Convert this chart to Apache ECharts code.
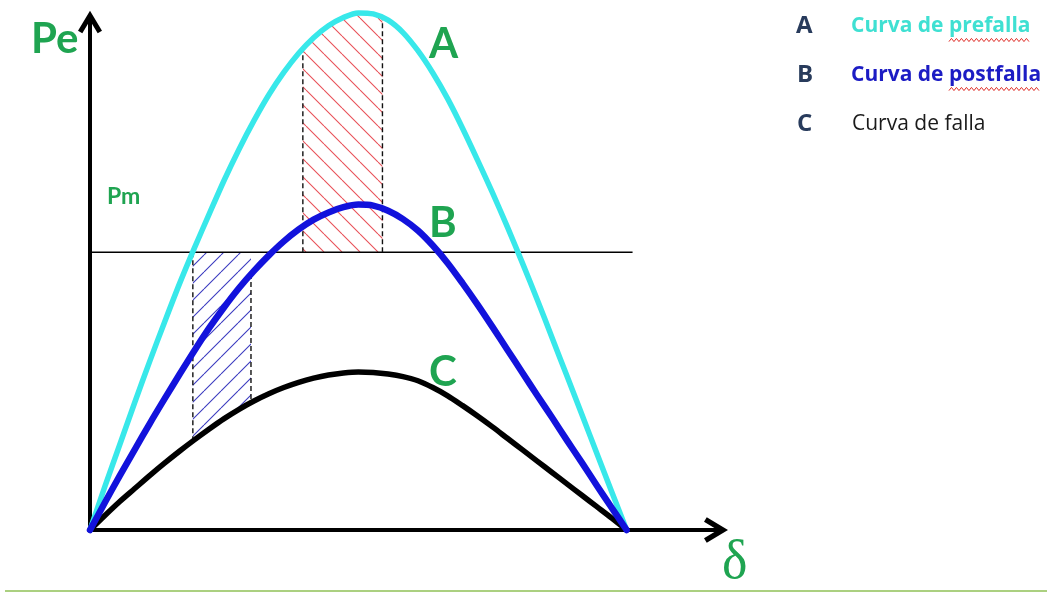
<!DOCTYPE html>
<html>
<head>
<meta charset="utf-8">
<title>Curvas potencia-ángulo</title>
<script src="https://cdn.jsdelivr.net/npm/echarts@6/dist/echarts.min.js"></script>
<style>
  html, body { margin: 0; padding: 0; background: #fff; }
  #chart { width: 1047px; height: 593px; }
</style>
</head>
<body>
<div id="chart"></div>
<script>
// Load angle δ (degrees) at which the curves are sampled
const deltaDeg  = [0, 5, 10, 15, 20, 25, 30, 35, 40, 45, 50, 55, 60, 65, 70, 75, 80, 85, 90,
                   95, 100, 105, 110, 115, 120, 125, 130, 135, 140, 145, 150, 155, 160, 165, 170, 175, 180];
// A: curva de prefalla
const prefalla  = [0, 8.4, 16.5, 24.6, 32.5, 40.1, 47.5, 54.4, 61.0, 67.5, 73.5, 79.0, 84.0, 88.3, 92.0, 95.0, 97.3, 98.9, 99.8,
                   99.6, 98.4, 96.0, 92.5, 88.2, 83.2, 77.5, 71.4, 65.1, 58.5, 51.6, 44.5, 37.1, 29.7, 22.3, 14.8, 7.4, 0];
// B: curva de postfalla
const postfalla = [0, 5.3, 10.5, 15.5, 20.5, 25.3, 30.0, 34.6, 39.0, 43.0, 46.7, 50.0, 53.0, 55.7, 58.0, 59.9, 61.3, 62.3, 62.8,
                   62.6, 61.6, 60.0, 57.8, 54.9, 51.5, 47.6, 43.5, 39.2, 34.8, 30.4, 26.0, 21.7, 17.3, 13.0, 8.6, 4.3, 0];
// C: curva de falla
const falla     = [0, 2.8, 5.5, 8.0, 10.5, 12.9, 15.2, 17.4, 19.5, 21.5, 23.3, 24.9, 26.3, 27.5, 28.5, 29.3, 29.9, 30.3, 30.5,
                   30.4, 30.1, 29.6, 28.8, 27.5, 25.9, 24.0, 22.0, 19.9, 17.7, 15.5, 13.3, 11.1, 8.9, 6.7, 4.5, 2.3, 0];

// Mechanical power Pm and the extent of its line
const pm = 53.6;
const pmSpan = [0, 182];
// Deceleration area: edges in δ and the values of A there
const redEdges = [71.4, 98.1];
const redEdgeA = [92.8, 98.9];
// Acceleration area: edges in δ, values of C there, and B at the right edge
const blueEdges = [34.5, 54];
const blueEdgeC = [17.2, 24.6];
const blueEdgeB = 49.4;

const curveLabels = ['A', 'B', 'C'];
const legendTexts = ['Curva de prefalla', 'Curva de postfalla', 'Curva de falla'];

const GREEN = '#1fa451';
const CYAN = '#38e8ea';
const BLUE = '#1212dc';

function pairs(arr) { return deltaDeg.map((d, i) => [d, arr[i]]); }
function innerPoints(arr, edges) {
  return deltaDeg.map((d, i) => [d, arr[i]]).filter(p => p[0] > edges[0] && p[0] < edges[1]);
}

// Diagonal hatch tiles
function hatch(size, color, backslash) {
  const c = document.createElement('canvas');
  c.width = size; c.height = size;
  const g = c.getContext('2d');
  g.strokeStyle = color; g.lineWidth = 1.1;
  g.beginPath();
  for (let k = -1; k <= 1; k++) {
    if (backslash) { g.moveTo(k * size, 0); g.lineTo(k * size + size, size); }
    else { g.moveTo(k * size, size); g.lineTo(k * size + size, 0); }
  }
  g.stroke();
  return { image: c, repeat: 'repeat' };
}
const redHatch = hatch(18, '#e8525a', true);
const blueHatch = hatch(17, '#3c3cc0', false);

// Open chevron used as the axis arrow heads
const chevron = 'path://M12,0 L24,20 L19.7,22.6 L12,9.7 L4.3,22.6 L0,20 Z';

function dashed(d, v0, v1) {
  return {
    type: 'line', data: [[d, v0], [d, v1]], symbol: 'none', silent: true, z: 3, clip: false,
    lineStyle: { color: '#111', width: 1.4, type: [5, 3] }
  };
}

const labelFont = 'Lato, "Open Sans", sans-serif';
const legendFont = '"Open Sans", Lato, sans-serif';

// Text measurement for placing the wavy underlines under a word
const measureCtx = document.createElement('canvas').getContext('2d');
function textWidth(str, font) { measureCtx.font = font; return measureCtx.measureText(str).width; }

// Spell-check style wavy underline
function squiggle(x0, x1, y) {
  const pts = [];
  for (let x = x0, i = 0; x <= x1; x += 2.5, i++) pts.push([x, y + (i % 2 ? -1.6 : 1.6)]);
  return { type: 'polyline', shape: { points: pts }, style: { stroke: '#e0302a', lineWidth: 1, fill: null }, silent: true };
}

const legendX = 851;
const legendY = [26, 75, 124];
const legendBold = 'bold 21px ' + legendFont;
function underline(i, word) {
  const text = legendTexts[i];
  const start = legendX + textWidth(text.slice(0, text.indexOf(word)), legendBold);
  const end = legendX + textWidth(text, legendBold);
  return squiggle(start, end, legendY[i] + 14);
}

const chart = echarts.init(document.getElementById('chart'), null, { renderer: 'canvas' });

const option = {
  animation: false,
  backgroundColor: '#fff',
  grid: { left: 90, right: 325, top: 16, bottom: 63, outerBoundsMode: 'none' },
  xAxis: {
    type: 'value', min: 0, max: 212,
    axisLine: { lineStyle: { color: '#000', width: 4 }, symbol: ['none', chevron], symbolSize: [26, 24], symbolOffset: [0, -6] },
    axisTick: { show: false }, axisLabel: { show: false }, splitLine: { show: false }
  },
  yAxis: {
    type: 'value', min: 0, max: 99.2,
    axisLine: { show: true, lineStyle: { color: '#000', width: 4 }, symbol: ['none', chevron], symbolSize: [24, 24], symbolOffset: [0, -6] },
    axisTick: { show: false }, axisLabel: { show: false }, splitLine: { show: false }
  },
  series: [
    {
      // deceleration area under A and above Pm
      type: 'custom', z: 1, silent: true, clip: false,
      data: [[redEdges[0], pm]],
      renderItem: function (params, api) {
        const pts = [api.coord([redEdges[0], redEdgeA[0]])];
        innerPoints(prefalla, redEdges).forEach(p => pts.push(api.coord(p)));
        pts.push(api.coord([redEdges[1], redEdgeA[1]]));
        pts.push(api.coord([redEdges[1], pm]));
        pts.push(api.coord([redEdges[0], pm]));
        return { type: 'polygon', shape: { points: pts }, style: { fill: redHatch, stroke: null } };
      }
    },
    {
      // acceleration area below Pm and above C
      type: 'custom', z: 1, silent: true, clip: false,
      data: [[blueEdges[0], pm]],
      renderItem: function (params, api) {
        const pts = [api.coord([blueEdges[0], pm]), api.coord([blueEdges[1], pm]), api.coord([blueEdges[1], blueEdgeC[1]])];
        innerPoints(falla, blueEdges).reverse().forEach(p => pts.push(api.coord(p)));
        pts.push(api.coord([blueEdges[0], blueEdgeC[0]]));
        return { type: 'polygon', shape: { points: pts }, style: { fill: blueHatch, stroke: null } };
      }
    },
    {
      type: 'line', data: [[pmSpan[0], pm], [pmSpan[1], pm]], symbol: 'none', silent: true, z: 2,
      lineStyle: { color: '#000', width: 1.4 }
    },
    dashed(redEdges[0], pm, redEdgeA[0]),
    dashed(redEdges[1], pm, redEdgeA[1]),
    dashed(blueEdges[0], pm, blueEdgeC[0]),
    dashed(blueEdges[1], blueEdgeB, blueEdgeC[1]),
    {
      name: legendTexts[0], type: 'line', data: pairs(prefalla), smooth: 0.3, symbol: 'none', z: 4, clip: false,
      lineStyle: { color: CYAN, width: 5.5, cap: 'round', join: 'round' }
    },
    {
      name: legendTexts[2], type: 'line', data: pairs(falla), smooth: 0.3, symbol: 'none', z: 5, clip: false,
      lineStyle: { color: '#000', width: 5.5, cap: 'round', join: 'round' }
    },
    {
      name: legendTexts[1], type: 'line', data: pairs(postfalla), smooth: 0.3, symbol: 'none', z: 6, clip: false,
      lineStyle: { color: BLUE, width: 6.5, cap: 'round', join: 'round' }
    }
  ],
  graphic: [
    { type: 'text', left: 31, top: 18, style: { text: 'Pe', fill: GREEN, font: 'bold 42px ' + labelFont }, silent: true },
    { type: 'text', left: 107, top: 185, style: { text: 'Pm', fill: GREEN, font: 'bold 23px ' + labelFont }, silent: true },
    { type: 'text', left: 722, top: 537, style: { text: 'δ', fill: GREEN, font: '54px "Liberation Serif", "DejaVu Serif", serif' }, silent: true },
    { type: 'text', left: 429, top: 23, style: { text: curveLabels[0], fill: GREEN, font: 'bold 42px ' + labelFont }, silent: true },
    { type: 'text', left: 429, top: 202, style: { text: curveLabels[1], fill: GREEN, font: 'bold 42px ' + labelFont }, silent: true },
    { type: 'text', left: 429, top: 351, style: { text: curveLabels[2], fill: GREEN, font: 'bold 42px ' + labelFont }, silent: true },

    { type: 'text', x: 796, y: legendY[0], style: { text: curveLabels[0], fill: '#283b5c', font: 'bold 24px ' + legendFont, verticalAlign: 'middle' }, silent: true },
    { type: 'text', x: 797, y: legendY[1], style: { text: curveLabels[1], fill: '#283b5c', font: 'bold 24px ' + legendFont, verticalAlign: 'middle' }, silent: true },
    { type: 'text', x: 797, y: legendY[2], style: { text: curveLabels[2], fill: '#283b5c', font: 'bold 24px ' + legendFont, verticalAlign: 'middle' }, silent: true },
    { type: 'text', x: legendX, y: legendY[0], style: { text: legendTexts[0], fill: '#3fe0d2', font: legendBold, verticalAlign: 'middle' }, silent: true },
    { type: 'text', x: legendX, y: legendY[1], style: { text: legendTexts[1], fill: '#1c1cc4', font: legendBold, verticalAlign: 'middle' }, silent: true },
    { type: 'text', x: legendX + 1, y: legendY[2], style: { text: legendTexts[2], fill: '#1a1a1a', font: '21px ' + legendFont, verticalAlign: 'middle' }, silent: true },
    underline(0, 'prefalla'),
    underline(1, 'postfalla'),

    {
      type: 'line', shape: { x1: 5, y1: 591, x2: 1047, y2: 591 },
      style: { stroke: '#abd080', lineWidth: 2 }, silent: true
    }
  ]
};

chart.setOption(option);
</script>
</body>
</html>
